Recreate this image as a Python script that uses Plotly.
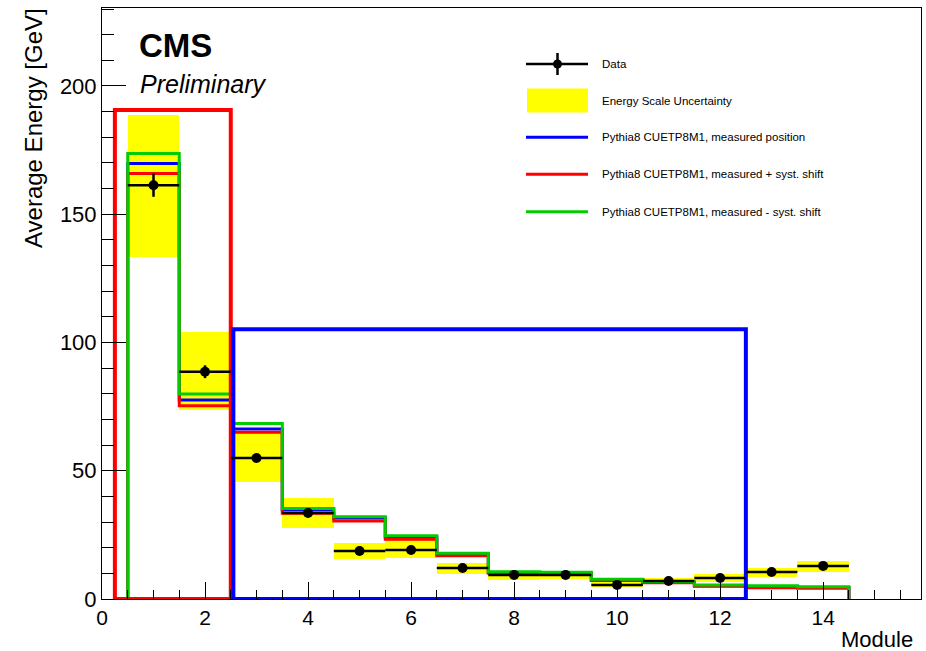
import plotly.graph_objects as go

# ---------------- data ----------------
modules = [1, 2, 3, 4, 5, 6, 7, 8, 9, 10, 11, 12, 13, 14]
data_energy = [161.3, 88.6, 55.0, 33.5, 18.7, 19.1, 12.1, 9.4, 9.4, 5.5, 7.0, 8.2, 10.5, 12.9]
data_err = [4.5, 2.5, 1.5, 1.0, 0.8, 0.8, 0.6, 0.5, 0.5, 0.4, 0.4, 0.4, 0.5, 0.5]
escale_low = [133.5, 73.7, 45.5, 27.8, 15.5, 15.9, 9.6, 7.4, 7.8, 4.6, 5.8, 6.7, 8.5, 10.6]
escale_high = [188.6, 103.9, 65.0, 39.2, 21.7, 23.8, 13.9, 10.6, 10.6, 6.7, 8.1, 9.6, 12.2, 14.9]
mc_nominal = [169.8, 77.6, 66.3, 34.8, 31.6, 24.2, 17.4, 10.3, 10.1, 7.4, 6.5, 5.2, 4.8, 4.5]
mc_plus = [165.9, 75.3, 65.0, 33.4, 30.4, 23.3, 16.9, 10.0, 9.8, 7.2, 6.3, 5.0, 4.4, 4.2]
mc_minus = [173.7, 79.9, 68.4, 35.3, 32.1, 24.7, 17.8, 10.6, 10.4, 7.7, 6.7, 5.5, 5.2, 4.8]
# detector regions (x from, x to, height)
region_red = [0.25, 2.5, 190.6]
region_blue = [2.55, 12.5, 105.2]

legend_labels = ["Data", "Energy Scale Uncertainty",
                 "Pythia8 CUETP8M1, measured position",
                 "Pythia8 CUETP8M1, measured + syst. shift",
                 "Pythia8 CUETP8M1, measured - syst. shift"]

BLUE = "#0000ff"
RED = "#ff0000"
GREEN = "#00cc00"
YELLOW = "#ffff00"
FONT = "Liberation Sans, Arial, Helvetica, sans-serif"

# ---------------- layout geometry ----------------
W, H = 926, 651
L, R, T, B = 102, 5, 8, 52
PW, PH = W - L - R, H - T - B


def px(x):
    return (x - L) / PW


def py(y):
    return 1 - (y - T) / PH


def step(vals):
    xs, ys = [modules[0] - 0.5], [0]
    for m, v in zip(modules, vals):
        xs += [m - 0.5, m + 0.5]
        ys += [v, v]
    xs.append(modules[-1] + 0.5)
    ys.append(0)
    return xs, ys


def box(reg):
    x0, x1, h = reg
    return [x0, x0, x1, x1, x0], [0, h, h, 0, 0]


fig = go.Figure()

fig.add_trace(go.Bar(
    x=modules, y=[h - l for h, l in zip(escale_high, escale_low)], base=escale_low,
    width=1.0, marker=dict(color=YELLOW, line=dict(width=0)), showlegend=False))

for vals, col in [(mc_nominal, BLUE), (mc_plus, RED), (mc_minus, GREEN)]:
    xs, ys = step(vals)
    fig.add_trace(go.Scatter(x=xs, y=ys, mode="lines",
                             line=dict(color=col, width=3), showlegend=False))

for reg, col in [(region_red, RED), (region_blue, BLUE)]:
    xs, ys = box(reg)
    fig.add_trace(go.Scatter(x=xs, y=ys, mode="lines",
                             line=dict(color=col, width=4), showlegend=False))

fig.add_trace(go.Scatter(
    x=modules, y=data_energy, mode="markers",
    marker=dict(color="black", size=10),
    error_x=dict(type="constant", value=0.5, color="black", thickness=2.5, width=0),
    error_y=dict(type="data", array=data_err, color="black", thickness=2.5, width=0),
    showlegend=False))

# ---------------- legend (manual) ----------------
shapes = []
annotations = []
leg_y = [64, 100.7, 137.3, 174.3, 211.7]
sx0, sx1 = 526, 588
# Data symbol
shapes.append(dict(type="line", xref="paper", yref="paper", x0=px(sx0), x1=px(sx1),
                   y0=py(leg_y[0]), y1=py(leg_y[0]), line=dict(color="black", width=2.5)))
shapes.append(dict(type="line", xref="paper", yref="paper", x0=px(557.5), x1=px(557.5),
                   y0=py(53), y1=py(75), line=dict(color="black", width=2.5)))
shapes.append(dict(type="circle", xref="paper", yref="paper", x0=px(553), x1=px(562),
                   y0=py(68.5), y1=py(59.5), fillcolor="black", line=dict(color="black", width=0)))
# energy scale box
shapes.append(dict(type="rect", xref="paper", yref="paper", x0=px(527), x1=px(588),
                   y0=py(112.5), y1=py(88.5), fillcolor=YELLOW, line=dict(width=0)))
for yy, col in zip(leg_y[2:], [BLUE, RED, GREEN]):
    shapes.append(dict(type="line", xref="paper", yref="paper", x0=px(sx0), x1=px(sx1),
                       y0=py(yy), y1=py(yy), line=dict(color=col, width=3)))
for yy, lab in zip(leg_y, legend_labels):
    annotations.append(dict(text=lab, xref="paper", yref="paper", x=px(600), y=py(yy),
                            xanchor="left", yanchor="middle", showarrow=False,
                            font=dict(size=11.5, color="black", family=FONT)))

annotations.append(dict(text="<b>CMS</b>", xref="paper", yref="paper", x=px(137), y=py(45),
                        xanchor="left", yanchor="middle", showarrow=False,
                        font=dict(size=33, color="black", family=FONT)))
annotations.append(dict(text="<i>Preliminary</i>", xref="paper", yref="paper", x=px(138), y=py(84),
                        xanchor="left", yanchor="middle", showarrow=False,
                        font=dict(size=25, color="black", family=FONT)))
annotations.append(dict(text="Average Energy [GeV]", xref="paper", yref="paper", x=px(33), y=py(6),
                        xanchor="center", yanchor="top", textangle=-90, showarrow=False,
                        font=dict(size=24, color="black", family=FONT)))
annotations.append(dict(text="Module", xref="paper", yref="paper", x=px(915), y=py(639),
                        xanchor="right", yanchor="middle", showarrow=False,
                        font=dict(size=22, color="black", family=FONT)))

fig.update_layout(
    width=W, height=H,
    margin=dict(l=L, r=R, t=T, b=B),
    paper_bgcolor="white", plot_bgcolor="white",
    font=dict(family=FONT, color="black"),
    showlegend=False,
    shapes=shapes, annotations=annotations,
    bargap=0,
)
fig.update_xaxes(range=[0, 15.9], showgrid=False, zeroline=False,
                 showline=True, mirror=True, linecolor="black", linewidth=1,
                 ticks="inside", ticklen=17, tickwidth=1, tickcolor="black",
                 tick0=0, dtick=2, tickfont=dict(size=21, family=FONT),
                 minor=dict(ticks="inside", ticklen=9, dtick=0.5, tickcolor="black", showgrid=False))
fig.update_yaxes(range=[0, 230.4], showgrid=False, zeroline=False,
                 showline=True, mirror=True, linecolor="black", linewidth=1,
                 ticks="inside", ticklen=24, tickwidth=1, tickcolor="black",
                 tick0=0, dtick=50, tickfont=dict(size=22, family=FONT),
                 minor=dict(ticks="inside", ticklen=12, dtick=10, tickcolor="black", showgrid=False))

fig.write_html("out.html")
